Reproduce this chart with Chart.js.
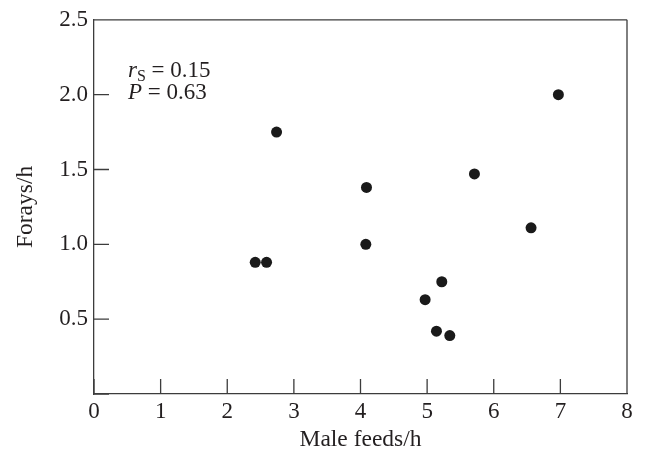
<!DOCTYPE html>
<html>
<head>
<meta charset="utf-8">
<script src="https://cdn.jsdelivr.net/npm/chart.js@4/dist/chart.umd.min.js"></script>
<style>
  html, body { margin: 0; padding: 0; background: #ffffff; }
  #wrap { width: 645px; height: 454px; position: relative; }
</style>
</head>
<body>
<div id="wrap"><canvas id="c" width="645" height="454"></canvas></div>
<script>
// ---- data ----
const maleFeeds = [2.42, 2.59, 2.74, 4.08, 4.09, 4.97, 5.14, 5.22, 5.34, 5.71, 6.56, 6.97];
const foraysPerHour = [0.88, 0.88, 1.75, 1.00, 1.38, 0.63, 0.42, 0.75, 0.39, 1.47, 1.11, 2.00];
const xTicks = [0, 1, 2, 3, 4, 5, 6, 7, 8];
const yTicks = [0, 0.5, 1.0, 1.5, 2.0, 2.5];
const xTitle = 'Male feeds/h';
const yTitle = 'Forays/h';
const statR = '0.15';
const statP = '0.63';

const points = maleFeeds.map((x, i) => ({ x: x, y: foraysPerHour[i] }));

const FONT = '"Liberation Serif", "Times New Roman", serif';
const INK = '#231f20';
const AXIS = '#3c3c3c';

const frameAndTicks = {
  id: 'frameAndTicks',
  afterDatasetsDraw(chart) {
    const { ctx, chartArea: a, scales: { x, y } } = chart;
    ctx.save();
    ctx.strokeStyle = AXIS;
    ctx.lineWidth = 1.3;
    ctx.beginPath();
    // top and right frame
    ctx.moveTo(a.left, a.top); ctx.lineTo(a.right, a.top);
    ctx.moveTo(a.right, a.top); ctx.lineTo(a.right, a.bottom);
    // inward tick marks
    const len = 15;
    xTicks.forEach(v => {
      const px = x.getPixelForValue(v);
      ctx.moveTo(px, a.bottom); ctx.lineTo(px, a.bottom - len);
    });
    yTicks.forEach(v => {
      const py = y.getPixelForValue(v);
      ctx.moveTo(a.left, py); ctx.lineTo(a.left + len, py);
    });
    ctx.stroke();

    // statistics annotation
    const tx = x.getPixelForValue(0.51);
    const ty1 = y.getPixelForValue(2.115);
    const ty2 = y.getPixelForValue(1.97);
    ctx.fillStyle = INK;
    ctx.textBaseline = 'alphabetic';
    ctx.textAlign = 'left';
    ctx.font = 'italic 23px ' + FONT;
    ctx.fillText('r', tx, ty1);
    let w = ctx.measureText('r').width;
    ctx.font = '16px ' + FONT;
    ctx.fillText('S', tx + w, ty1 + 4);
    w += ctx.measureText('S').width;
    ctx.font = '23px ' + FONT;
    ctx.fillText(' = ' + statR, tx + w, ty1);

    ctx.font = 'italic 23px ' + FONT;
    ctx.fillText('P', tx, ty2);
    const wp = ctx.measureText('P').width;
    ctx.font = '23px ' + FONT;
    ctx.fillText(' = ' + statP, tx + wp, ty2);
    ctx.restore();
  }
};

new Chart(document.getElementById('c'), {
  type: 'scatter',
  data: {
    datasets: [{
      data: points,
      backgroundColor: '#1a1a1a',
      borderColor: '#1a1a1a',
      borderWidth: 0,
      pointRadius: 5.5,
      pointHoverRadius: 5.5
    }]
  },
  options: {
    responsive: false,
    animation: false,
    events: [],
    layout: { padding: { left: 0, right: 18, top: 16, bottom: 0 } },
    plugins: { legend: { display: false }, tooltip: { enabled: false } },
    scales: {
      x: {
        type: 'linear',
        min: 0, max: 8,
        afterFit(scale) { scale.height = 60; },
        afterBuildTicks(scale) { scale.ticks = xTicks.map(v => ({ value: v })); },
        ticks: {
          color: INK,
          padding: 4,
          font: { family: FONT, size: 23 },
          maxRotation: 0,
          callback: v => String(v)
        },
        grid: { display: true, drawOnChartArea: false, drawTicks: false },
        border: { display: true, color: AXIS, width: 1.3 },
        title: {
          display: true,
          text: xTitle,
          color: INK,
          font: { family: FONT, size: 23.5 },
          padding: { top: 0, bottom: 0 }
        }
      },
      y: {
        type: 'linear',
        min: 0, max: 2.5,
        afterFit(scale) { scale.width = 94; },
        afterBuildTicks(scale) { scale.ticks = yTicks.map(v => ({ value: v })); },
        ticks: {
          color: INK,
          padding: 6,
          font: { family: FONT, size: 23 },
          callback: v => (v === 0 ? '' : v.toFixed(1))
        },
        grid: { display: true, drawOnChartArea: false, drawTicks: false },
        border: { display: true, color: AXIS, width: 1.3 },
        title: {
          display: true,
          text: yTitle,
          color: INK,
          font: { family: FONT, size: 23.5 },
          padding: { top: 12, bottom: 0 }
        }
      }
    }
  },
  plugins: [frameAndTicks]
});
</script>
</body>
</html>
